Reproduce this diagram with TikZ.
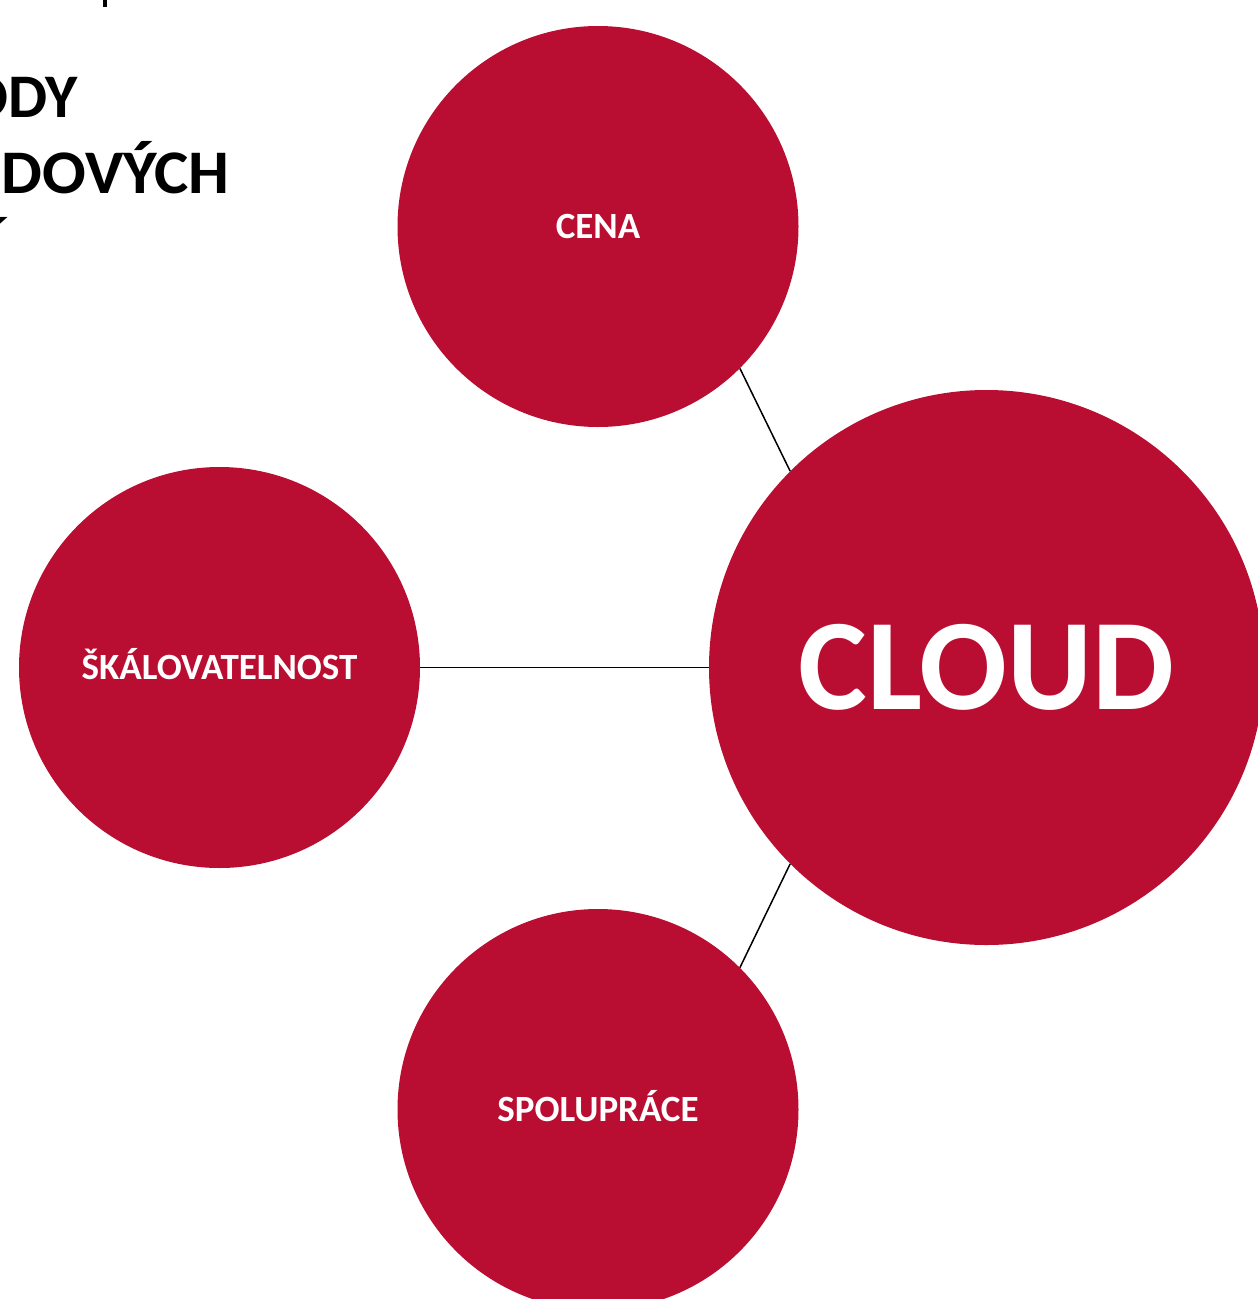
\documentclass[tikz,border=0pt]{standalone}
\usepackage{fontspec}
\usepackage{graphicx}
\setmainfont{Carlito}
\definecolor{crimson}{RGB}{185,14,49}
\newlength\tailw
\begin{document}
\settowidth\tailw{\fontsize{62}{75}\selectfont\bfseries DOVÝCH}%
\pgfmathsetmacro\titlesx{228/\tailw}%
\begin{tikzpicture}[x=1pt,y=-1pt,
  bubble/.style={circle,fill=crimson,inner sep=0pt,minimum size=401pt,text=white,
    font=\fontsize{37}{44}\selectfont\bfseries,text height=24pt,text depth=0pt},
  bigbubble/.style={bubble,minimum size=555pt,font=\fontsize{130}{150}\selectfont\bfseries,text height=84pt},
  link/.style={draw=black,line width=1.5pt},
  title/.style={inner sep=0pt,anchor=base east,text=black,font=\fontsize{62}{75}\selectfont\bfseries}]
\useasboundingbox (0,0) rectangle (1258,1299);
\clip (0,0) rectangle (1258,1299);
% clipped slide title
\fill[black] (102.5,0) rectangle (106.5,7);
\node[title] (t1) at (78,117) {VÝHODY};
\node[title] (t2) at (230,193) {\scalebox{\titlesx}[1]{CLOU\kern16pt DOVÝCH}};
\node[title] (t3) at (4,269) {ŘEŠENÍ};
% bubbles
\node[bubble] (cena) at (598,226.5) {CENA};
\node[bubble] (skal) at (219.5,667.5) {ŠKÁLOVATELNOST};
\node[bubble] (spol) at (598,1109.5) {SPOLUPRÁCE};
\node[bigbubble] (cloud) at (986.5,667.5) {CLOUD};
% connectors
\draw[link] (cena.-45) -- (cloud.135);
\draw[link] (skal.east) -- (cloud.west);
\draw[link] (spol.45) -- (cloud.-135);
\end{tikzpicture}
\end{document}
